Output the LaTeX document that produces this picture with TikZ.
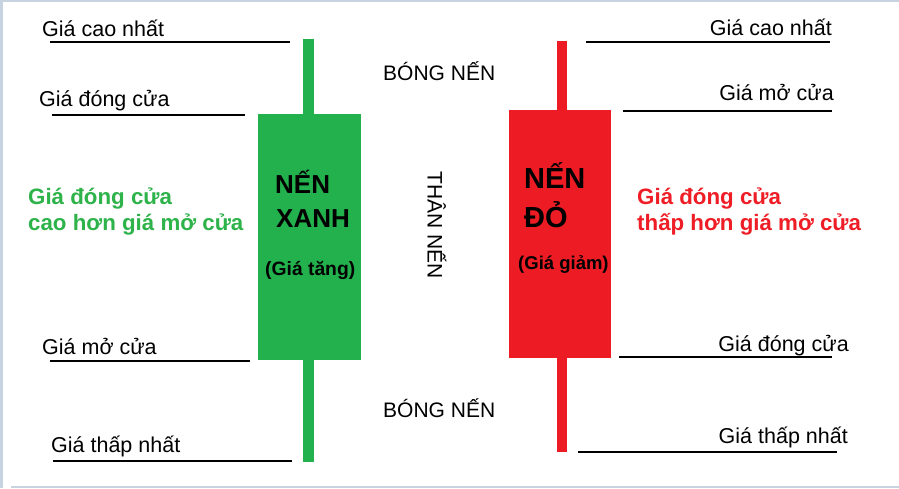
\documentclass[tikz,border=0pt]{standalone}
\usepackage{fontspec}
\setmainfont{Liberation Sans}
\definecolor{gbody}{HTML}{22B14C}
\definecolor{gtext}{HTML}{2EB34B}
\definecolor{rbody}{HTML}{ED1C24}
\definecolor{rtext}{HTML}{EE1D26}
\definecolor{frame}{HTML}{C8D3E2}
\begin{document}
\begin{tikzpicture}[x=1pt,y=-1pt,
  lbl/.style={inner sep=0pt, font=\fontsize{21.5}{24}\selectfont},
  pline/.style={line width=2pt, black},
  box/.style={inner sep=0pt, outer sep=0pt, draw=none},
  note/.style={inner sep=0pt, align=left, font=\fontsize{22.3}{26}\selectfont\bfseries},
  big/.style={inner sep=0pt, align=left, font=\bfseries},
  small/.style={inner sep=0pt, font=\fontsize{18.5}{22}\selectfont\bfseries},
  mid/.style={inner sep=0pt, font=\fontsize{21}{24}\selectfont}]
% frame
\fill[white] (0,0) rectangle (899,488);
\fill[frame] (0,0) rectangle (899,2);
\fill[frame] (0,0) rectangle (3,488);
\fill[frame] (11,486) rectangle (899,488);
\useasboundingbox (0,0) rectangle (899,488);

% green candle
\node[box, fill=gbody, minimum width=11pt, minimum height=423pt, anchor=north west] (gwick) at (303,39) {};
\node[box, fill=gbody, minimum width=103pt, minimum height=246pt, anchor=north west] (gcandle) at (258,114) {};
% red candle
\node[box, fill=rbody, minimum width=10pt, minimum height=411pt, anchor=north west] (rwick) at (557,41) {};
\node[box, fill=rbody, minimum width=102pt, minimum height=248pt, anchor=north west] (rcandle) at (509,110) {};

% candle titles
\node[big, font=\fontsize{26}{30}\selectfont\bfseries, anchor=base west] (gt1) at (275,193) {NẾN};
\node[big, font=\fontsize{26}{30}\selectfont\bfseries, anchor=base west] (gt2) at (276,227) {XANH};
\node[small, font=\fontsize{19.3}{22}\selectfont\bfseries, anchor=base west] (gt3) at (265,275) {(Giá tăng)};
\node[big, font=\fontsize{29}{34}\selectfont\bfseries, anchor=base west] (rt1) at (524,188) {NẾN};
\node[big, font=\fontsize{29}{34}\selectfont\bfseries, anchor=base west] (rt2) at (524,227) {ĐỎ};
\node[small, anchor=base west] (rt3) at (518,269) {(Giá giảm)};

% left labels
\node[lbl, anchor=base west] (lhigh) at (42,36) {Giá cao nhất};
\node[lbl, anchor=base west] (lclose) at (39,106) {Giá đóng cửa};
\node[lbl, anchor=base west] (lopen) at (42,354) {Giá mở cửa};
\node[lbl, anchor=base west] (llow) at (51,452) {Giá thấp nhất};
\coordinate (a1) at (50,41.5);  \coordinate (a2) at (290,41.5);
\coordinate (b1) at (52,114.5); \coordinate (b2) at (245,114.5);
\coordinate (c1) at (50,361);   \coordinate (c2) at (250,361);
\coordinate (d1) at (53,461);   \coordinate (d2) at (292,461);
\draw[pline] (a1) -- (a2);
\draw[pline] (b1) -- (b2);
\draw[pline] (c1) -- (c2);
\draw[pline] (d1) -- (d2);

% right labels
\node[lbl, anchor=base east] (rhigh) at (832,35) {Giá cao nhất};
\node[lbl, anchor=base east] (ropen) at (834,100) {Giá mở cửa};
\node[lbl, anchor=base east] (rclose) at (849,351) {Giá đóng cửa};
\node[lbl, anchor=base east] (rlow) at (848,443) {Giá thấp nhất};
\coordinate (e1) at (586,42);   \coordinate (e2) at (830,42);
\coordinate (f1) at (623,110.5);\coordinate (f2) at (832,110.5);
\coordinate (g1) at (619,357);  \coordinate (g2) at (832,357);
\coordinate (h1) at (578,452);  \coordinate (h2) at (837,452);
\draw[pline] (e1) -- (e2);
\draw[pline] (f1) -- (f2);
\draw[pline] (g1) -- (g2);
\draw[pline] (h1) -- (h2);

% coloured explanations
\node[note, text=gtext, anchor=base west] (gn1) at (28,204) {Giá đóng cửa};
\node[note, text=gtext, anchor=base west] (gn2) at (28,230) {cao hơn giá mở cửa};
\node[note, text=rtext, anchor=base west] (rn1) at (637,204) {Giá đóng cửa};
\node[note, text=rtext, anchor=base west] (rn2) at (637,230) {thấp hơn giá mở cửa};

% middle texts
\node[mid, anchor=base west] (shadowtop) at (383,80) {BÓNG NẾN};
\node[mid, anchor=base west] (shadowbot) at (383,417) {BÓNG NẾN};
\node[mid, rotate=-90] (body) at (437,225) {THÂN NẾN};
\end{tikzpicture}
\end{document}
